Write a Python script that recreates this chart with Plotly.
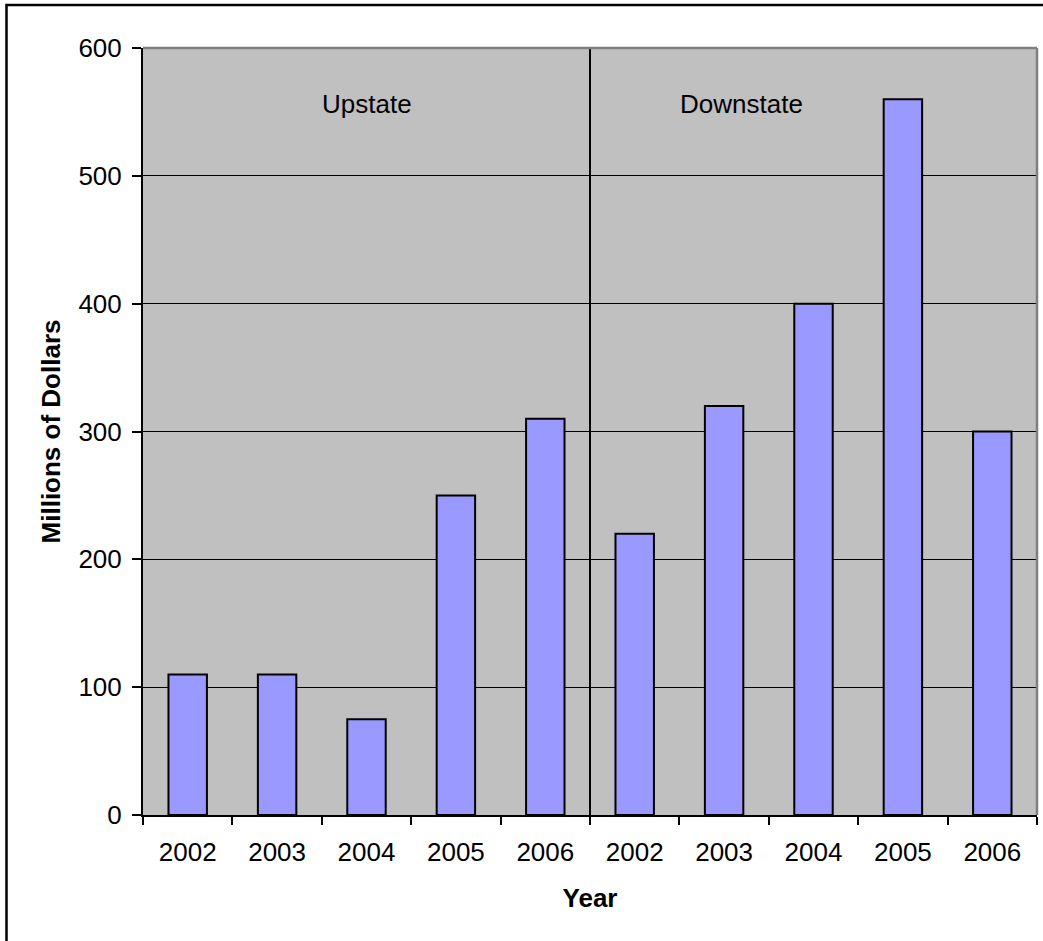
import plotly.graph_objects as go

# Data
years = ["2002", "2003", "2004", "2005", "2006", "2002", "2003", "2004", "2005", "2006"]
upstate_values = [110, 110, 75, 250, 310]
downstate_values = [220, 320, 400, 560, 300]
group_labels = ["Upstate", "Downstate"]

values = upstate_values + downstate_values
xpos = list(range(len(values)))

FONT = "Arial, 'Liberation Sans', sans-serif"
FS = 26

fig = go.Figure()
fig.add_trace(go.Bar(
    x=xpos, y=values, width=0.43,
    marker=dict(color="#9999FF", line=dict(color="black", width=2)),
    showlegend=False, hoverinfo="x+y",
))

n_up = len(upstate_values)
boundaries = [i - 0.5 for i in range(len(values) + 1)]

fig.update_layout(
    width=1043, height=941,
    margin=dict(l=143, r=6, t=48, b=126),
    paper_bgcolor="white",
    plot_bgcolor="#C0C0C0",
    font=dict(family=FONT, size=FS, color="black"),
    xaxis=dict(
        range=[-0.5, len(values) - 0.5],
        tickmode="array", tickvals=xpos, ticktext=years,
        ticks="", showgrid=False, zeroline=False,
        showline=True, linecolor="black", linewidth=2,
        minor=dict(tickmode="array", tickvals=boundaries, ticks="outside",
                   ticklen=8, tickwidth=1.5, tickcolor="black", showgrid=False),
        title=dict(text="<b>Year</b>", font=dict(size=FS), standoff=23),
        tickfont=dict(size=FS),
        ticklabelstandoff=13,
    ),
    yaxis=dict(
        range=[0, 600], dtick=100, tick0=0,
        ticks="outside", ticklen=9, tickwidth=1.5, tickcolor="black",
        showgrid=True, gridcolor="black", gridwidth=1.4,
        zeroline=False,
        showline=True, linecolor="black", linewidth=2,
        title=dict(text="<b>Millions of Dollars</b>", font=dict(size=FS), standoff=10),
        tickfont=dict(size=FS),
        ticklabelstandoff=5,
    ),
)

# group divider
fig.add_shape(type="line", xref="x", yref="y", x0=n_up - 0.5, x1=n_up - 0.5, y0=0, y1=600,
              line=dict(color="black", width=2), layer="above")
# plot area top/right gray border
fig.add_shape(type="line", xref="paper", yref="paper", x0=0, x1=1, y0=1, y1=1,
              line=dict(color="#808080", width=2.5), layer="above")
fig.add_shape(type="line", xref="paper", yref="paper", x0=1, x1=1, y0=0, y1=1,
              line=dict(color="#808080", width=2.5), layer="above")
# outer chart border (extends beyond view on right and bottom)
fig.add_shape(type="rect", xref="paper", yref="paper",
              x0=(6.5 - 143) / 894, x1=1.05, y0=-0.25, y1=(815 - 5) / 767,
              line=dict(color="black", width=2.5), fillcolor="rgba(0,0,0,0)", layer="above")

# group labels
fig.add_annotation(x=(n_up - 1) / 2, y=556, xref="x", yref="y", text=group_labels[0],
                   showarrow=False, font=dict(size=FS))
fig.add_annotation(x=6.2, y=556, xref="x", yref="y", text=group_labels[1],
                   showarrow=False, font=dict(size=FS))

fig.write_html("out.html")
